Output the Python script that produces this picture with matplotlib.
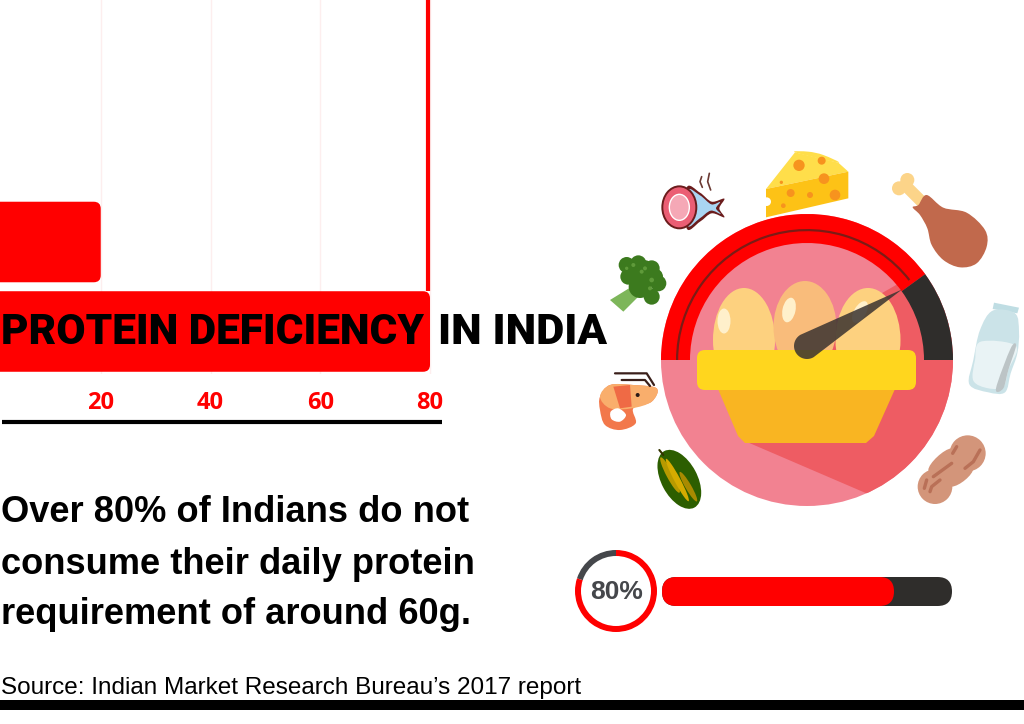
# Protein deficiency in India infographic: bar panel on the left, gauge and food icons on the right.

import numpy as np
import matplotlib
matplotlib.use('Agg')
import matplotlib.pyplot as plt
from matplotlib.patches import Circle, Ellipse, FancyBboxPatch, PathPatch, Polygon, Wedge
from matplotlib.path import Path

bar_rows = [0, 1]
bar_values = [20, 80]
tick_values = [20, 40, 60, 80]
tick_labels = ['20', '40', '60', '80']
share = 80

title_left = 'PROTEIN DEFICIENCY'
title_right = 'IN INDIA'
body_lines = ['Over 80% of Indians do not',
              'consume their daily protein',
              'requirement of around 60g.']
source = 'Source: Indian Market Research Bureau\u2019s 2017 report'

RED = '#ff0000'
DARK = '#2f2d2b'

fig = plt.figure(figsize=(10.24, 7.24), dpi=100, facecolor='white')

# bar panel, pixel scale: 80 sits at x=430, 20 at x=101
ax = fig.add_axes([0, 1 - 374 / 724, 445 / 1024, 374 / 724], zorder=1)
px_per_val = 5.4875
ax.set_xlim(9 / px_per_val, (445 + 9) / px_per_val)
row_px = 89.5
ax.set_ylim((374 - 242) / row_px, -242 / row_px)
for s in ax.spines.values():
    s.set_visible(False)
ax.set_yticks([])
ax.set_xticks(tick_values)
ax.set_xticklabels(tick_labels, color=RED, fontsize=17, fontweight='bold', family='Open Sans')
ax.tick_params(axis='x', length=0, pad=12.5)
ax.grid(axis='x', color='#fdeeee', lw=1)
ax.set_axisbelow(True)
ax.plot([bar_values[1] - 0.3] * 2, [-3, 0.55], color=RED, lw=3, solid_capstyle='butt', zorder=2)
for row, val in zip(bar_rows, bar_values):
    h = 0.9
    r = 7 / px_per_val
    ax.add_patch(FancyBboxPatch((-5, row - h / 2), val + 5, h, boxstyle=f'round,pad=0,rounding_size={r}',
                                mutation_aspect=px_per_val / row_px, fc=RED, ec='none', zorder=3))

# overlay in pixel coordinates for everything else
ov = fig.add_axes([0, 0, 1, 1], zorder=2)
ov.set_xlim(0, 1024)
ov.set_ylim(724, 0)
ov.axis('off')


def z(x, y):
    return 590 + x / 3, 140 + y / 3


def zs(pts):
    return [z(x, y) for x, y in pts]


def blob(pts, color, zorder=5):
    # closed smooth shape through the points
    p = np.array(zs(pts), dtype=float)
    n = len(p)
    verts = [p[0]]
    codes = [Path.MOVETO]
    for i in range(n):
        p0, p1, p2, p3 = p[i - 1], p[i], p[(i + 1) % n], p[(i + 2) % n]
        verts += [p1 + (p2 - p0) / 6, p2 - (p3 - p1) / 6, p2]
        codes += [Path.CURVE4] * 3
    patch = PathPatch(Path(verts, codes), fc=color, ec='none', zorder=zorder)
    ov.add_patch(patch)
    return patch


def poly(pts, color, zorder=5):
    patch = Polygon(zs(pts), closed=True, fc=color, ec='none', zorder=zorder)
    ov.add_patch(patch)
    return patch


def dot(x, y, r, color, zorder=6):
    cx, cy = z(x, y)
    ov.add_patch(Circle((cx, cy), r / 3, fc=color, ec='none', zorder=zorder))


def stroke(pts, color, lw, zorder=6):
    p = np.array(zs(pts))
    ov.plot(p[:, 0], p[:, 1], color=color, lw=lw, solid_capstyle='round', solid_joinstyle='round', zorder=zorder)


# y axis of the overlay is flipped, so angles are negated for wedges
def wedge(c, r, a1, a2, width, color, zorder):
    w = Wedge(c, r, -a2, -a1, width=width, fc=color, ec='none', zorder=zorder)
    ov.add_patch(w)
    return w


# gauge
cx, cy, R = 807, 360, 146
needle_deg = 180 - 180 * share / 100
face = Circle((cx, cy), R, fc='#f28291', ec='none', zorder=2)
ov.add_patch(face)
shade = Polygon([(747, 442), (868, 494), (970, 520), (970, 240), (903, 281), (870, 300), (812, 345)],
                closed=True, fc='#ee5c63', ec='none', zorder=2.5)
ov.add_patch(shade)
shade.set_clip_path(face)
wedge((cx, cy), R, needle_deg, 180, 29, RED, 3)
wedge((cx, cy), R, 0, needle_deg, 29, DARK, 3)
wedge((cx, cy), 131, needle_deg + 2, 180, 2.2, '#7a1c16', 3.5)

# eggs
for ex, ey, ew, eh, col in [(744, 340, 62, 104, '#fdd17f'), (805, 327, 63, 92, '#f9bc7b'), (868, 340, 65, 104, '#fdd17f')]:
    ov.add_patch(Ellipse((ex, ey), ew, eh, fc=col, ec='none', zorder=4 if col == '#f9bc7b' else 3.8))
ov.add_patch(Ellipse((724, 321), 13, 25, fc='#fff0cb', ec='none', zorder=4.2))
ov.add_patch(Ellipse((789, 310), 13, 25, angle=12, fc='#fff0cb', ec='none', zorder=4.2))
ov.add_patch(Ellipse((860, 312), 12, 24, angle=30, fc='#fff0cb', ec='none', zorder=4.2))

# basket
ov.add_patch(Polygon([(718, 389), (895, 389), (874, 436), (866, 443), (745, 443), (738, 436)],
                     closed=True, fc='#f9b522', ec='none', zorder=4.4))
ov.add_patch(FancyBboxPatch((697, 350), 219, 40, boxstyle='round,pad=0,rounding_size=8',
                            fc='#ffd61e', ec='none', zorder=4.5))

# needle: round end at the hub, tapering to the tip on the ring
hub = np.array([807.0, 346.0])
tip_r = 120
tip = np.array([cx + tip_r * np.cos(np.radians(needle_deg)) - 2, cy - tip_r * np.sin(np.radians(needle_deg)) + 0])
ang = np.arctan2(tip[1] - hub[1], tip[0] - hub[0])
arc = np.linspace(ang + np.pi / 2, ang + 3 * np.pi / 2, 30)
outline = [hub + 13 * np.array([np.cos(a), np.sin(a)]) for a in arc] + [tuple(tip)]
ov.add_patch(Polygon(outline, closed=True, fc='#3a3330', ec='none', alpha=0.85, zorder=4.8))

# cheese
blob([(615, 37), (655, 35), (700, 45), (745, 68)], '#ffde4a')
poly([(615, 37), (745, 68), (775, 95), (528, 147)], '#ffde4a')
poly([(528, 147), (775, 95), (775, 175), (528, 232)], '#fdc216')
for hx, hy, hr in [(627, 76, 17), (695, 62, 12), (702, 116, 16), (574, 127, 5), (602, 159, 12),
                   (660, 165, 9), (735, 165, 16), (580, 197, 7)]:
    dot(hx, hy, hr, '#f7931e')
dot(530, 185, 13, 'white')

# chicken leg
stroke([(1000, 190), (945, 135)], '#fcd489', 8.5)
dot(927, 145, 21, '#fcd489')
dot(952, 120, 21, '#fcd489')
blob([(968, 202), (985, 195), (1010, 165), (1060, 203), (1130, 218), (1185, 270), (1190, 320), (1160, 370),
      (1110, 382), (1060, 360), (1025, 315), (1012, 265), (990, 225)], '#c1694c', zorder=6.5)

# milk bottle
poly([(1212, 488), (1287, 503), (1282, 520), (1208, 507)], '#bfdde3')
blob([(1208, 512), (1275, 520), (1287, 575), (1282, 640), (1262, 700), (1245, 757), (1195, 757), (1138, 733),
      (1150, 660), (1170, 570)], '#cbe3e8')
blob([(1172, 605), (1278, 618), (1255, 690), (1240, 740), (1195, 745), (1150, 722), (1155, 660)], '#e9f3f5', zorder=5.5)
blob([(1262, 625), (1278, 618), (1255, 690), (1240, 745), (1218, 745)], '#bcc4c6', zorder=5.7)

# peanut
dot(1133, 940, 54, '#d3957a', zorder=5)
dot(1035, 1040, 52, '#d3957a', zorder=5)
blob([(1085, 925), (1150, 985), (1085, 1040), (1015, 990)], '#d3957a')
for line in ([(1170, 930), (1150, 965), (1125, 985)], [(1100, 920), (1088, 940)], [(1085, 970), (1030, 1010)],
             [(1050, 1020), (1025, 1040), (1020, 1055)], [(1010, 1020), (1003, 1045)], [(1017, 1070), (1017, 1072)]):
    stroke(line, '#b97057', 2.4)

# melon
ov.add_patch(Ellipse(z(268, 1018), 36, 64, angle=-28, fc='#2c5e00', ec='none', zorder=5))
ov.add_patch(Ellipse(z(240, 1005), 7, 40, angle=-28, fc='#b89a00', ec='none', zorder=5.2))
ov.add_patch(Ellipse(z(262, 1020), 6, 48, angle=-28, fc='#d6ab00', ec='none', zorder=5.2))
ov.add_patch(Ellipse(z(295, 1040), 6, 34, angle=-30, fc='#a98a00', ec='none', zorder=5.2))
stroke([(208, 930), (220, 945)], '#333300', 1.5)

# shrimp
blob([(30, 770), (60, 735), (130, 735), (200, 745), (185, 785), (130, 805), (137, 850), (90, 870),
      (45, 855), (30, 810)], '#f2784b')
blob([(30, 770), (60, 735), (130, 735), (200, 745), (185, 785), (125, 805), (60, 805)], '#f9ae6c', zorder=5.2)
poly([(70, 740), (120, 735), (125, 800), (90, 805)], '#ef6a45', zorder=5.4)
blob([(62, 815), (85, 805), (108, 825), (90, 845), (65, 838)], 'white', zorder=5.6)
dot(143, 765, 6, '#2b1a17')
stroke([(75, 700), (170, 700), (192, 735)], '#3a1f1a', 1.6)
stroke([(95, 720), (165, 720), (180, 738)], '#3a1f1a', 1.6)

# broccoli
poly([(60, 480), (125, 440), (150, 465), (100, 515)], '#7db65a')
for bx, by, br in [(110, 375, 24), (145, 370, 24), (185, 385, 24), (205, 430, 24), (185, 470, 24),
                   (150, 440, 34), (115, 410, 24), (160, 400, 40), (195, 410, 24), (140, 410, 30)]:
    dot(bx, by, br, '#3c7a1e')
for bx, by, br in [(130, 375, 6), (165, 385, 6), (185, 420, 7), (155, 395, 6), (110, 385, 5), (180, 445, 6)]:
    dot(bx, by, br, '#5f9a3a', zorder=6.2)

# fish and meat cut
blob([(290, 143), (330, 158), (365, 185), (403, 176), (388, 205), (403, 232), (365, 220), (330, 245), (290, 265)],
     '#6b1c1c')
blob([(292, 152), (330, 166), (364, 193), (390, 186), (378, 205), (392, 222), (362, 212), (328, 236), (292, 256)],
     '#a9d5f2', zorder=5.2)
ov.add_patch(Ellipse(z(268, 202), 34, 42, fc='#eb5e74', ec='#6b1c1c', lw=1.4, zorder=5.4))
ov.add_patch(Ellipse(z(268, 202), 20, 26, fc='#f5a8b6', ec='white', lw=1, zorder=5.5))
stroke([(335, 110), (330, 125), (337, 142)], '#6b3a33', 1.2)
stroke([(358, 100), (353, 125), (362, 150)], '#6b3a33', 1.2)

# progress ring and bar
ring_c = (616, 591)
wedge(ring_c, 41, 90, 90 + 360 * (100 - share) / 100, 6, '#45474b', 5)
wedge(ring_c, 41, 90 + 360 * (100 - share) / 100, 450, 6, RED, 5)
ov.text(616.5, 592, f'{share}%', fontsize=19, color='#45474b', family=['Liberation Sans Narrow', 'Liberation Sans'],
        fontweight='bold', ha='center', va='center')
bar_x0, bar_w = 662, 290
ov.add_patch(FancyBboxPatch((bar_x0, 577), bar_w, 29, boxstyle='round,pad=0,rounding_size=14.5',
                            fc=DARK, ec='none', zorder=5))
ov.add_patch(FancyBboxPatch((bar_x0, 577), bar_w * share / 100, 29, boxstyle='round,pad=0,rounding_size=14.5',
                            fc=RED, ec='none', zorder=5.5))

# text
ov.text(1, 333, title_left, fontsize=30.5, family='Roboto', fontweight='black', color='black', va='center', ha='left', zorder=8)
ov.text(438, 333, title_right, fontsize=31.3, family='Roboto', fontweight='black', color='black', va='center', ha='left', zorder=8)
for i, line in enumerate(body_lines):
    ov.text(1, 513 + 51 * i, line, fontsize=26.1, family='Liberation Sans', fontweight='bold', color='black',
            va='center', ha='left')
ov.text(1, 688, source, fontsize=17.5, family='Liberation Sans', color='black', va='center', ha='left')

# rules
ov.plot([2, 442], [422, 422], color='black', lw=3, solid_capstyle='butt')
ov.fill_between([0, 1024], 700, 710, color='black', lw=0)

fig.savefig('out.png', dpi=100)
